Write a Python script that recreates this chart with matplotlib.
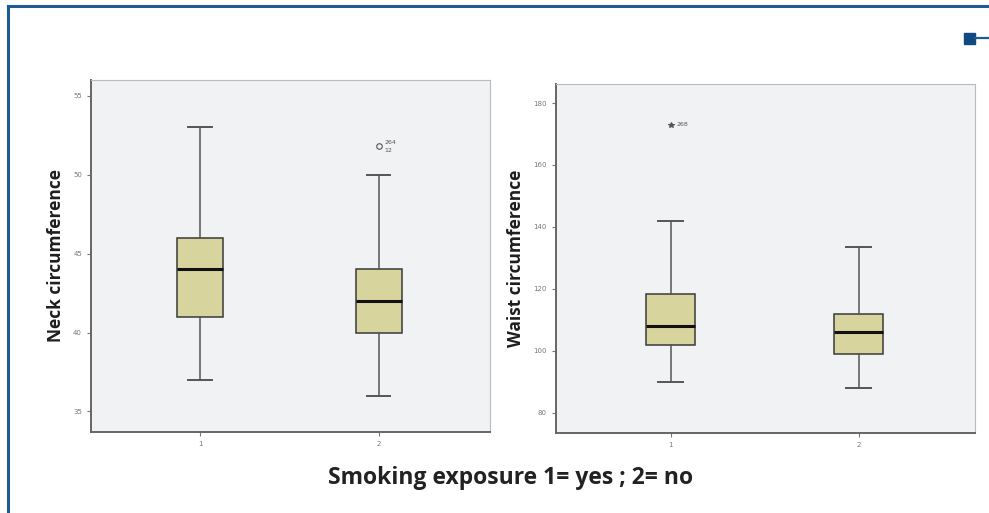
import matplotlib
matplotlib.use("Agg")
import matplotlib.pyplot as plt
from matplotlib.lines import Line2D
from matplotlib.patches import Rectangle

# ---- data ----------------------------------------------------------------
groups = [1, 2]
group_labels = ["1", "2"]

neck_whislo = [37, 36]
neck_q1 = [41, 40]
neck_med = [44, 42]
neck_q3 = [46, 44]
neck_whishi = [53, 50]
neck_fliers = [[], [51.8]]
neck_flier_ids = ["264\n12"]

waist_whislo = [90, 88]
waist_q1 = [102, 99]
waist_med = [108, 106]
waist_q3 = [118.5, 112]
waist_whishi = [142, 133.5]
waist_fliers = [[173], []]
waist_flier_ids = ["268"]

neck_ticks = [35, 40, 45, 50, 55]
waist_ticks = [80, 100, 120, 140, 160, 180]

# ---- theme ----------------------------------------------------------------
BOX = "#d8d49e"
FACE = "#f1f2f3"
EDGE = "#3a3a3a"
FRAME = "#1f5b93"


def stats(lo, q1, med, q3, hi, fl):
    return [dict(whislo=a, q1=b, med=c, q3=d, whishi=e, fliers=f)
            for a, b, c, d, e, f in zip(lo, q1, med, q3, hi, fl)]


def panel(ax, st, ticks, ylim, ylabel, flier_marker, flier_ids):
    ax.set_facecolor(FACE)
    ax.bxp(st, positions=groups, widths=0.26, patch_artist=True,
           boxprops=dict(facecolor=BOX, edgecolor=EDGE, lw=1.1),
           medianprops=dict(color="#111111", lw=2.2),
           whiskerprops=dict(color="#555555", lw=1.1),
           capprops=dict(color="#555555", lw=1.4),
           flierprops=dict(marker=flier_marker, markersize=4,
                           markerfacecolor="none" if flier_marker == "o" else "#555555",
                           markeredgecolor="#555555", markeredgewidth=0.8))
    # outlier case ids
    i = 0
    for pos, s in zip(groups, st):
        for v in s["fliers"]:
            ax.annotate(flier_ids[i], (pos, v), xytext=(4, 0), textcoords="offset points",
                        fontsize=4.5, color="#555555", ha="left", va="center",
                        linespacing=1.8)
            i += 1
    ax.set_xlim(0.39, 2.62)
    ax.set_ylim(*ylim)
    ax.set_yticks(ticks)
    ax.set_xticks(groups)
    ax.set_xticklabels(group_labels)
    ax.tick_params(labelsize=5, colors="#777777", length=3, width=0.8)
    for s in ("top", "right"):
        ax.spines[s].set_color("#bbbbbb")
        ax.spines[s].set_linewidth(0.8)
    for s in ("left", "bottom"):
        ax.spines[s].set_color("#666666")
        ax.spines[s].set_linewidth(1.4)
    ax.set_ylabel(ylabel, fontsize=12.5, fontweight="bold", color="#1e1e1e",
                  family="Open Sans", labelpad=6)


fig = plt.figure(figsize=(9.89, 5.13), dpi=100)
fig.patch.set_facecolor("white")

ax1 = fig.add_axes([0.092, 0.158, 0.403, 0.686])
ax2 = fig.add_axes([0.562, 0.156, 0.424, 0.680])

panel(ax1, stats(neck_whislo, neck_q1, neck_med, neck_q3, neck_whishi, neck_fliers),
      neck_ticks, (33.7, 56.0), "Neck circumference", "o", neck_flier_ids)
panel(ax2, stats(waist_whislo, waist_q1, waist_med, waist_q3, waist_whishi, waist_fliers),
      waist_ticks, (73.5, 186.1), "Waist circumference", "*", waist_flier_ids)

fig.text(0.516, 0.068, "Smoking exposure 1= yes ; 2= no", ha="center", va="center",
         fontsize=16.5, fontweight="bold", family="Open Sans", color="#222222")

# page frame (blue border top + left) and corner marker
fig.add_artist(Line2D([0.0085, 1.0], [0.988, 0.988], color=FRAME, lw=2.2,
                      transform=fig.transFigure))
fig.add_artist(Line2D([0.0085, 0.0085], [0.0, 0.988], color=FRAME, lw=2.2,
                      transform=fig.transFigure))
fig.add_artist(Rectangle((0.975, 0.915), 0.011, 0.021, color="#114a80",
                         transform=fig.transFigure))
fig.add_artist(Line2D([0.986, 1.0], [0.926, 0.926], color=FRAME, lw=1.6,
                      transform=fig.transFigure))

fig.savefig("out.png", dpi=100)
